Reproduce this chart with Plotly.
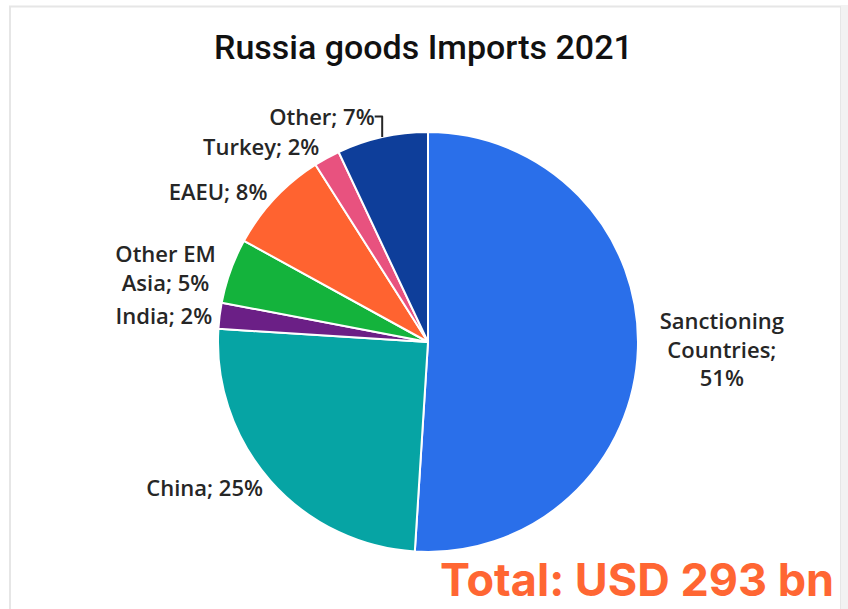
import plotly.graph_objects as go

categories = ["Sanctioning Countries", "China", "India", "Other EM Asia", "EAEU", "Turkey", "Other"]
display_labels = ["Sanctioning<br>Countries;<br>51%", "China; 25%", "India; 2%", "Other EM<br>Asia; 5%",
                  "EAEU; 8%", "Turkey; 2%", "Other; 7%"]
values = [51, 25, 2, 5, 8, 2, 7]
colors = ["#2A6FEA", "#06A4A4", "#6B1F86", "#14B33C", "#FF6330", "#E8527F", "#0E3E9A"]

W, H = 848, 609
cx, cy, r = 428, 342, 210

label_font = dict(family="Open Sans", size=22, color="#262626", weight=600)

fig = go.Figure()
fig.add_trace(go.Pie(
    labels=categories,
    values=values,
    customdata=display_labels,
    texttemplate="%{customdata}",
    textposition="outside",
    sort=False,
    direction="clockwise",
    rotation=0,
    marker=dict(colors=colors, line=dict(color="white", width=2)),
    textfont=label_font,
    outsidetextfont=label_font,
    showlegend=False,
    hoverinfo="label+percent",
    domain=dict(x=[(cx - r) / W, (cx + r) / W], y=[(H - cy - r) / H, (H - cy + r) / H]),
))

fig.update_layout(
    width=W, height=H,
    margin=dict(l=0, r=0, t=0, b=0),
    paper_bgcolor="white",
    plot_bgcolor="white",
    shapes=[
        dict(type="rect", xref="paper", yref="paper", x0=10 / W, x1=841 / W, y0=-0.05, y1=1 - 6.5 / H,
             line=dict(color="#E6E6E6", width=2), fillcolor="rgba(0,0,0,0)", layer="below"),
        dict(type="rect", xref="paper", yref="paper", x0=841 / W, x1=1, y0=0, y1=1 - 5 / H,
             line=dict(width=0), fillcolor="#F2F2F2", layer="below"),
    ],
    annotations=[
        dict(text="Russia goods Imports 2021", x=423 / W, y=1 - 47 / H, xref="paper", yref="paper",
             showarrow=False, xanchor="center", yanchor="middle",
             font=dict(family="Roboto", size=34, color="#111111", weight=500)),
        dict(text="Total: USD 293 bn", x=836 / W, y=0, xref="paper", yref="paper",
             showarrow=False, xanchor="right", yanchor="bottom",
             font=dict(family="Inter", size=45, color="#FF6633", weight=700)),
    ],
)

fig.write_html("out.html")
